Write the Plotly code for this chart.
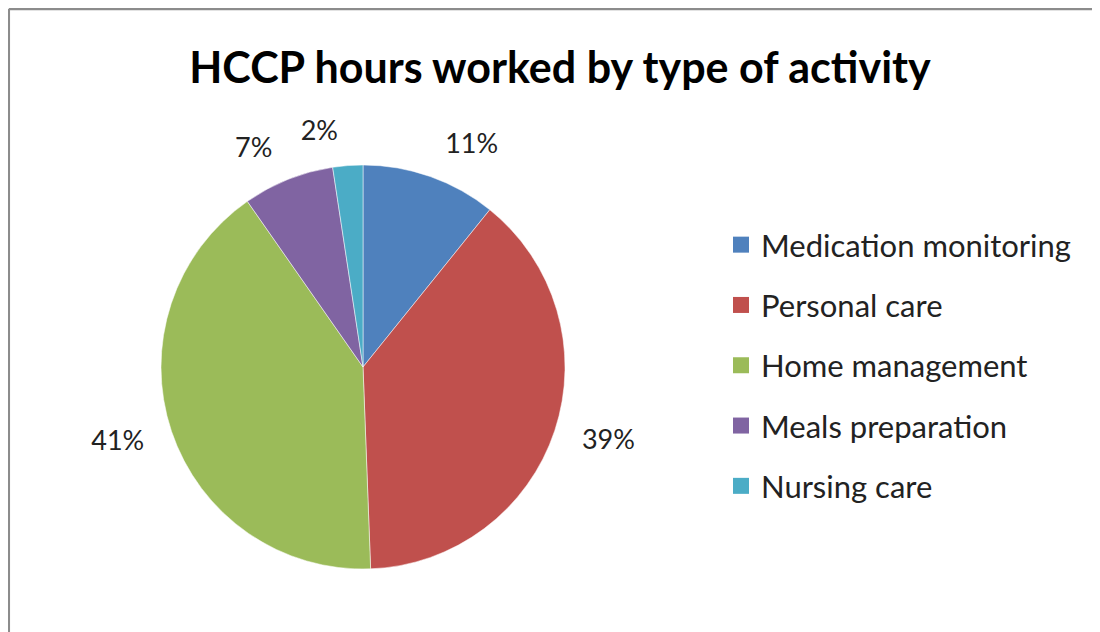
import plotly.graph_objects as go

activities = ["Medication monitoring", "Personal care", "Home management",
              "Meals preparation", "Nursing care"]
shares = [10.8, 38.6, 40.9, 7.3, 2.4]
colors = ["#4F81BD", "#C0504D", "#9BBB59", "#8064A2", "#4BACC6"]

W, H = 1100, 632
# the page body adds an 8px offset, so positions below are in figure pixels
cx, cy = 355, 359          # pie centre (from top-left)
r_pie, r_lab = 202, 222    # pie radius, radius used to push labels out


def dom(r):
    return dict(x=[(cx - r) / W, (cx + r) / W],
                y=[(H - cy - r) / H, (H - cy + r) / H])


fig = go.Figure()

fig.add_trace(go.Pie(
    labels=activities, values=shares, sort=False,
    direction="clockwise", rotation=0,
    marker=dict(colors=colors, line=dict(color="white", width=0.5)),
    textinfo="none", domain=dom(r_pie), showlegend=False,
))

# transparent, slightly bigger copies that only carry the percent labels;
# the small last slice gets its own trace so plotly doesn't shove it up
n = len(shares)
for pos in (["outside"] * (n - 1) + ["none"], ["none"] * (n - 1) + ["outside"]):
    fig.add_trace(go.Pie(
        labels=activities, values=shares, sort=False,
        direction="clockwise", rotation=0,
        marker=dict(colors=["rgba(0,0,0,0)"] * n, line=dict(width=0)),
        texttemplate="%{percent:.0%}", textposition=pos,
        outsidetextfont=dict(size=27, color="#222"),
        showlegend=False, hoverinfo="skip", domain=dom(r_lab),
    ))

# legend entries (square swatches, spaced like the original)
for name, col in zip(activities, colors):
    fig.add_trace(go.Scatter(
        x=[None], y=[None], mode="markers", name=name, legendgroup=name,
        marker=dict(symbol="square", size=16, color=col),
    ))

fig.update_layout(
    width=W, height=H,
    margin=dict(l=0, r=0, t=0, b=0),
    paper_bgcolor="white", plot_bgcolor="white",
    xaxis=dict(visible=False), yaxis=dict(visible=False),
    font=dict(family="Lato", color="#222"),
    title=dict(text="<b>HCCP hours worked by type of activity</b>",
               x=552 / W, xanchor="center", y=1 - 60 / H, yanchor="middle",
               font=dict(size=43, color="black")),
    legend=dict(x=713 / W, xanchor="left", y=1 - 210 / H, yanchor="top",
                font=dict(size=31, color="#222"),
                traceorder="grouped", tracegroupgap=17),
    shapes=[
        dict(type="line", xref="paper", yref="paper",
             x0=0.8 / W, x1=1, y0=1 - 1 / H, y1=1 - 1 / H,
             line=dict(color="#8c8c8c", width=2.5)),
        dict(type="line", xref="paper", yref="paper",
             x0=0.8 / W, x1=0.8 / W, y0=0, y1=1 - 1 / H,
             line=dict(color="#8c8c8c", width=2.5)),
    ],
)

fig.write_html("out.html")
